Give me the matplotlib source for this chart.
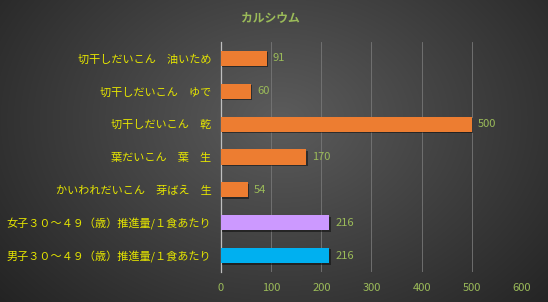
import numpy as np
import matplotlib
matplotlib.use('Agg')
import matplotlib.pyplot as plt
import matplotlib.patheffects as pe

plt.rcParams['font.family'] = ['Noto Sans CJK JP', 'DejaVu Sans']

# データ
categories = [
    '切干しだいこん　油いため',
    '切干しだいこん　ゆで',
    '切干しだいこん　乾',
    '葉だいこん　葉　生',
    'かいわれだいこん　芽ばえ　生',
    '女子３０～４９（歳）推進量/１食あたり',
    '男子３０～４９（歳）推進量/１食あたり',
]
values = [91, 60, 500, 170, 54, 216, 216]
bar_colors = ['#ed7d31', '#ed7d31', '#ed7d31', '#ed7d31', '#ed7d31', '#cc99ff', '#00b0f0']
xticks = [0, 100, 200, 300, 400, 500, 600]

fig = plt.figure(figsize=(5.48, 3.02), dpi=100)

# 背景のグラデーション
bg = fig.add_axes([0, 0, 1, 1])
yy, xx = np.mgrid[0:302, 0:548]
d = np.sqrt(((xx - 280) / 400.0) ** 2 + ((yy - 120) / 300.0) ** 2)
shade = np.clip(0.36 - 0.24 * d, 0.1, 0.4)
bg.imshow(np.dstack([shade, shade, shade]), aspect='auto', extent=[0, 1, 0, 1])
bg.axis('off')

ax = fig.add_axes([221 / 548, 1 - 272 / 302, 301 / 548, 230 / 302])
ax.set_facecolor('none')
y = np.arange(len(categories))
bars = ax.barh(y, values, height=0.46, color=bar_colors, zorder=3)
for b in bars:
    b.set_path_effects([pe.SimplePatchShadow(offset=(1, -1), shadow_rgbFace='black', alpha=0.45), pe.Normal()])
for yi, v in zip(y, values):
    ax.text(v + 12, yi, str(v), va='center', ha='left', color='#9bbb59', fontsize=8)

ax.set_xlim(0, 600)
ax.set_ylim(len(categories) - 0.5, -0.5)
ax.set_xticks(xticks)
ax.set_yticks(y)
ax.set_yticklabels(categories)
ax.tick_params(axis='y', length=0, labelsize=8, pad=7)
ax.tick_params(axis='x', length=0, colors='#9bbb59', labelsize=8, pad=8)
for lbl in ax.get_yticklabels():
    lbl.set_color('#e6e600')
ax.grid(axis='x', color='#777777', linewidth=0.6, zorder=0)
for s in ['top', 'right', 'bottom']:
    ax.spines[s].set_visible(False)
ax.spines['left'].set_color('#bfbfbf')
ax.spines['left'].set_linewidth(0.9)

fig.text(270 / 548, 1 - 18 / 302, 'カルシウム', ha='center', va='center',
         color='#9bbb59', fontsize=8.5, fontweight='bold')

fig.savefig('out.png', dpi=100)
